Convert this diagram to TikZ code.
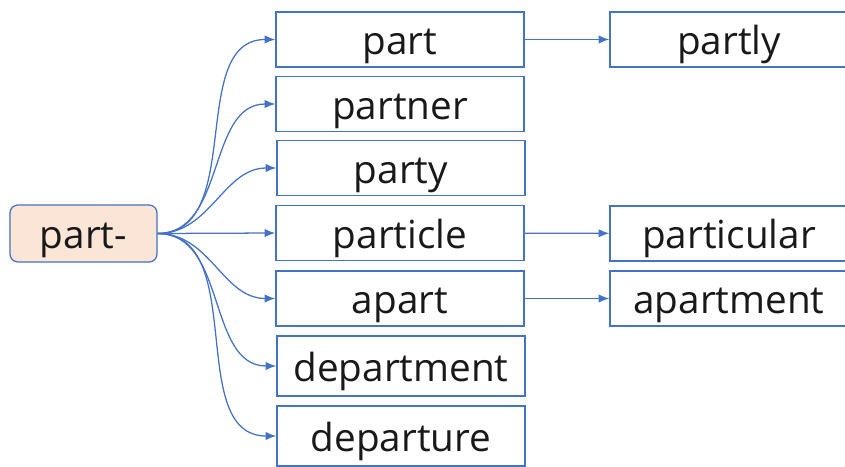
\documentclass[tikz,border=0pt]{standalone}
\usepackage{fontspec}
\setmainfont{Open Sans}
\usetikzlibrary{arrows.meta}
\definecolor{boxblue}{HTML}{4472C4}
\definecolor{rootfill}{HTML}{FBE5D6}
\begin{document}
\begin{tikzpicture}[x=0.025cm, y=-0.025cm,
  word/.style={draw=boxblue, line width=0.9pt, fill=white, minimum width=6.2cm, minimum height=1.375cm,
    inner sep=0pt, text height=0.85cm, text depth=0.1cm, font=\fontsize{27.5}{30}\selectfont, text=black!90},
  root/.style={word, fill=rootfill, rounded corners=0.2cm, minimum width=3.675cm, minimum height=1.425cm},
  link/.style={draw=boxblue, line width=0.9pt, -{Latex[length=0.27cm, width=0.21cm]}}]

\useasboundingbox (0,0) rectangle (845,466);
\clip (0,0) rectangle (845,466);

\node [root] (root) at (83.5,233.5) {part-};

\node [word] (part) at (400,39.5) {part};
\node [word] (partner) at (400,104) {partner};
\node [word] (party) at (401,168) {party};
\node [word] (particle) at (400,233) {particle};
\node [word] (apart) at (400,298.5) {apart};
\node [word, minimum height=1.5cm] (department) at (401,366) {department};
\node [word, minimum height=1.5cm] (departure) at (401,436) {departure};

\node [word, minimum width=5.95cm] (partly) at (729,39.5) {partly};
\node [word, minimum width=5.95cm] (particular) at (729,233.5) {particular};
\node [word, minimum width=5.95cm] (apartment) at (729,298.5) {apartment};

\foreach \w in {part,partner,party,apart,department,departure}
  \draw [link] (root.east) to [out=0, in=180] (\w.west);
\draw [link] (root.east) -- (particle.west);

\draw [link] (part) -- (partly);
\draw [link] (particle) -- (particular);
\draw [link] (apart) -- (apartment);
\end{tikzpicture}
\end{document}
